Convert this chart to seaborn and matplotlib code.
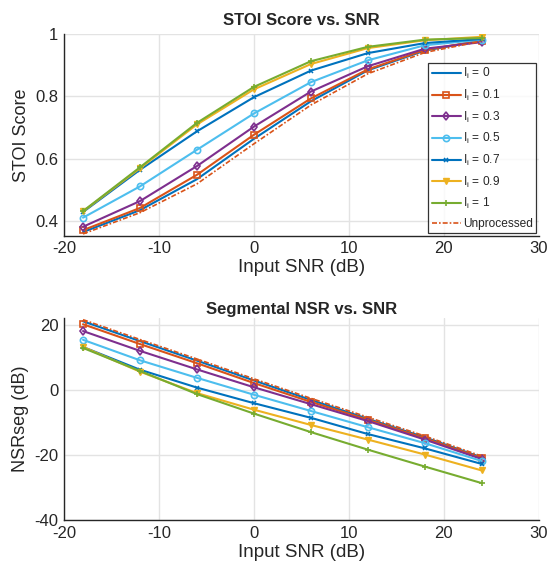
import numpy as np
import pandas as pd
import matplotlib
matplotlib.use("Agg")
import matplotlib.pyplot as plt
import seaborn as sns

snr = [-18, -12, -6, 0, 6, 12, 18, 24]
labels = ["I$_\\mathrm{i}$ = 0", "I$_\\mathrm{i}$ = 0.1", "I$_\\mathrm{i}$ = 0.3",
          "I$_\\mathrm{i}$ = 0.5", "I$_\\mathrm{i}$ = 0.7", "I$_\\mathrm{i}$ = 0.9",
          "I$_\\mathrm{i}$ = 1", "Unprocessed"]

stoi_0 = [0.366, 0.436, 0.535, 0.664, 0.784, 0.883, 0.946, 0.978]
stoi_01 = [0.372, 0.443, 0.549, 0.677, 0.793, 0.886, 0.948, 0.978]
stoi_03 = [0.383, 0.465, 0.577, 0.703, 0.815, 0.896, 0.952, 0.973]
stoi_05 = [0.412, 0.512, 0.629, 0.745, 0.845, 0.915, 0.963, 0.981]
stoi_07 = [0.430, 0.565, 0.688, 0.797, 0.882, 0.938, 0.970, 0.983]
stoi_09 = [0.432, 0.570, 0.710, 0.822, 0.903, 0.954, 0.979, 0.990]
stoi_1 = [0.433, 0.573, 0.715, 0.830, 0.912, 0.958, 0.981, 0.986]
stoi_unp = [0.360, 0.428, 0.520, 0.648, 0.772, 0.872, 0.940, 0.976]

nsr_0 = [21.2, 15.1, 9.1, 3.0, -3.0, -8.8, -14.5, -20.7]
nsr_01 = [20.3, 14.2, 8.3, 2.2, -3.6, -9.1, -14.8, -20.9]
nsr_03 = [18.2, 12.1, 6.4, 0.9, -4.3, -9.5, -15.2, -21.2]
nsr_05 = [15.5, 9.2, 3.8, -1.4, -6.4, -11.4, -16.3, -21.8]
nsr_07 = [13.3, 6.3, 0.8, -4.0, -8.5, -13.5, -17.9, -22.7]
nsr_09 = [13.3, 5.7, -0.9, -6.0, -10.7, -15.2, -19.8, -24.7]
nsr_1 = [13.0, 5.9, -1.2, -7.2, -12.9, -18.3, -23.5, -28.6]
nsr_unp = [21.7, 15.6, 9.6, 3.5, -2.5, -8.3, -14.1, -20.3]

stoi_series = [stoi_0, stoi_01, stoi_03, stoi_05, stoi_07, stoi_09, stoi_1, stoi_unp]
nsr_series = [nsr_0, nsr_01, nsr_03, nsr_05, nsr_07, nsr_09, nsr_1, nsr_unp]

colors = ["#0072BD", "#D95319", "#7E2F8E", "#4DBEEE", "#0072BD", "#EDB120", "#77AC30", "#D95319"]
markers = ["None", "s", "d", "o", "x", "v", "+", "None"]
hollow = [False, True, True, True, False, False, False, False]

sns.set_style("white")
plt.rcParams['font.family'] = ['Liberation Sans', 'DejaVu Sans']
plt.rcParams['mathtext.fontset'] = 'custom'
plt.rcParams['mathtext.rm'] = 'Liberation Sans'
plt.rcParams['axes.unicode_minus'] = False

fig = plt.figure(figsize=(5.52, 5.71), dpi=100)
ax1 = fig.add_axes([0.116, 0.587, 0.86, 0.354])
ax2 = fig.add_axes([0.116, 0.089, 0.86, 0.354])

def draw(ax, series):
    for i, vals in enumerate(series):
        df = pd.DataFrame({"x": snr, "y": vals})
        n0 = len(ax.lines)
        sns.lineplot(data=df, x="x", y="y", ax=ax, color=colors[i], label=labels[i])
        ln = ax.lines[n0]
        ln.set_linestyle("-")
        ln.set_linewidth(1.5)
        ln.set_marker(markers[i])
        ln.set_markeredgecolor(colors[i])
        ln.set_markerfacecolor("none" if hollow[i] else colors[i])
        ln.set_markersize(4.5)
        ln.set_markeredgewidth(1.2)
        if markers[i] == "x":
            ln.set_markersize(3.5)
            ln.set_markeredgewidth(1.1)
        if markers[i] == "v":
            ln.set_markersize(5)
            ln.set_markeredgewidth(1.0)
        if i == 7:
            ln.set_linestyle((0, (3, 1.2, 1, 1.2)))
            ln.set_linewidth(1.2)

draw(ax1, stoi_series)
draw(ax2, nsr_series)

for ax in (ax1, ax2):
    ax.set_xlim(-20, 30)
    ax.set_xticks([-20, -10, 0, 10, 20, 30])
    ax.grid(True, color="#e3e3e3", linewidth=1.0)
    ax.set_axisbelow(True)
    for s in ("top", "right"):
        ax.spines[s].set_visible(False)
    for s in ("left", "bottom"):
        ax.spines[s].set_color("#262626")
        ax.spines[s].set_linewidth(1.0)
    ax.tick_params(direction="in", length=4, width=0.8, colors="#262626",
                   labelsize=12, labelcolor="#262626", pad=4)
    ax.set_xlabel("Input SNR (dB)", fontsize=13.5, color="#262626", labelpad=2)

ax1.set_ylim(0.354, 1.0)
ax1.set_yticks([0.4, 0.6, 0.8, 1.0])
ax1.set_yticklabels(["0.4", "0.6", "0.8", "1"])
ax1.set_ylabel("STOI Score", fontsize=13, color="#262626")
ax1.set_title("STOI Score vs. SNR", fontsize=12, fontweight="bold", pad=6)

ax2.set_ylim(-40, 22.2)
ax2.set_yticks([-40, -20, 0, 20])
ax2.set_ylabel("NSRseg (dB)", fontsize=13, color="#262626")
ax2.set_title("Segmental NSR vs. SNR", fontsize=12, fontweight="bold", pad=3)
if ax2.get_legend() is not None:
    ax2.get_legend().remove()

handles, labs = ax1.get_legend_handles_labels()
leg = ax1.legend(handles, labs, loc="lower right", bbox_to_anchor=(1.0, 0.0), fontsize=8.6,
                 frameon=True, fancybox=False, edgecolor="black",
                 handlelength=2.4, handletextpad=0.2, labelspacing=0.55,
                 borderpad=0.3, borderaxespad=0.2)
leg.get_frame().set_linewidth(0.9)

fig.savefig("out.png", dpi=100)
